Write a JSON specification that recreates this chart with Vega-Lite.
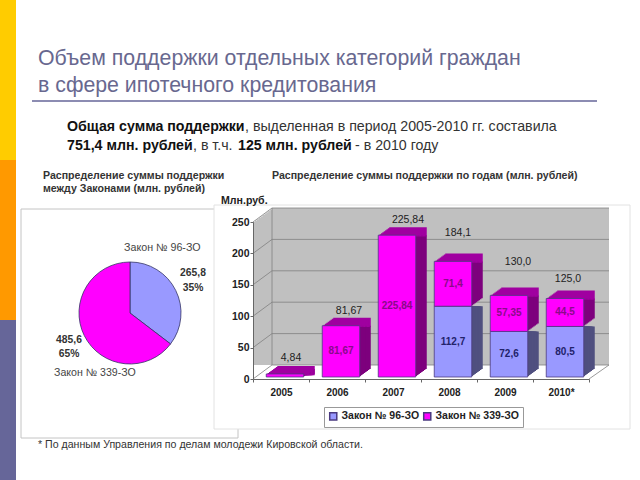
{"$schema":"https://vega.github.io/schema/vega-lite/v6.json","width":640,"height":480,"padding":0,"autosize":"none","background":"white","config":{"view":{"stroke":null},"text":{"font":"Liberation Sans"},"axis":{"labelFont":"Liberation Sans"}},
"datasets":{"funding":[{"year":"2005","law":"Закон № 339-ЗО","value":4.84,"label":"4,84"},{"year":"2006","law":"Закон № 339-ЗО","value":81.67,"label":"81,67"},{"year":"2007","law":"Закон № 339-ЗО","value":225.84,"label":"225,84"},{"year":"2008","law":"Закон № 96-ЗО","value":112.7,"label":"112,7"},{"year":"2008","law":"Закон № 339-ЗО","value":71.4,"label":"71,4"},{"year":"2009","law":"Закон № 96-ЗО","value":72.6,"label":"72,6"},{"year":"2009","law":"Закон № 339-ЗО","value":57.35,"label":"57,35"},{"year":"2010*","law":"Закон № 96-ЗО","value":80.5,"label":"80,5"},{"year":"2010*","law":"Закон № 339-ЗО","value":44.5,"label":"44,5"}],
"totals":[{"year":"2005","total":4.84,"label":"4,84"},{"year":"2006","total":81.67,"label":"81,67"},{"year":"2007","total":225.84,"label":"225,84"},{"year":"2008","total":184.1,"label":"184,1"},{"year":"2009","total":129.95,"label":"130,0"},{"year":"2010*","total":125,"label":"125,0"}],
"ticks":[{"v":0},{"v":50},{"v":100},{"v":150},{"v":200},{"v":250}],
"pie":[{"law":"Закон № 96-ЗО","value":265.8},{"law":"Закон № 339-ЗО","value":485.6}]},
"resolve":{"scale":{"x":"independent","y":"independent","color":"independent","fill":"independent","theta":"independent"},"axis":{"x":"independent","y":"independent"}},
"layer":[
{"data":{"values":[{"seg":"a"},{"seg":"b"},{"seg":"c"}]},"mark":"rect","encoding":{"y":{"field":"seg","type":"nominal","scale":{"type":"band","domain":["a","b","c"],"range":[0,480],"paddingInner":0,"paddingOuter":0},"axis":null},"x":{"datum":0,"type":"quantitative","scale":{"domain":[0,1],"range":[0,16]},"axis":null},"x2":{"datum":1},"color":{"field":"seg","type":"nominal","scale":{"domain":["a","b","c"],"range":["#ffcc00","#ff9900","#666699"]},"legend":null}}},
{"data":{"values":[{"line":"1","text":"Объем поддержки отдельных категорий граждан"},{"line":"2","text":"в сфере ипотечного кредитования"}]},"mark":{"type":"text","align":"left","baseline":"alphabetic","fontSize":21.3,"color":"#68688f"},"encoding":{"x":{"datum":0,"type":"quantitative","scale":{"domain":[0,1],"range":[38,39]},"axis":null},"y":{"field":"line","type":"nominal","scale":{"type":"point","domain":["1","2"],"range":[65,92],"padding":0},"axis":null},"text":{"field":"text"}}},
{"data":{"values":[{"k":"rule"}]},"mark":{"type":"rule","color":"#666699","strokeWidth":1.5},"encoding":{"x":{"datum":0,"type":"quantitative","scale":{"domain":[0,1],"range":[32,597]},"axis":null},"x2":{"datum":1},"y":{"datum":0,"type":"quantitative","scale":{"domain":[0,1],"range":[101,102]},"axis":null}}},
{"data":{"values":[{"run":"a","line":"1","text":"Общая сумма поддержки"},{"run":"b","line":"1","text":", выделенная в период 2005-2010 гг. составила"},{"run":"c","line":"2","text":"751,4 млн. рублей"},{"run":"d","line":"2","text":", в т.ч. "},{"run":"e","line":"2","text":"125 млн. рублей"},{"run":"f","line":"2","text":" - в 2010 году"}]},
"encoding":{"x":{"datum":0,"type":"quantitative","scale":{"domain":[0,1],"range":[67,68]},"axis":null},"y":{"field":"line","type":"nominal","scale":{"type":"point","domain":["1","2"],"range":[131,150],"padding":0},"axis":null},"text":{"field":"text"}},
"layer":[
{"transform":[{"filter":"datum.run=='a'"}],"mark":{"type":"text","align":"left","baseline":"alphabetic","fontSize":14.2,"fontWeight":"bold","color":"#111"}},
{"transform":[{"filter":"datum.run=='b'"}],"mark":{"type":"text","align":"left","baseline":"alphabetic","fontSize":14.2,"color":"#333","dx":178}},
{"transform":[{"filter":"datum.run=='c'"}],"mark":{"type":"text","align":"left","baseline":"alphabetic","fontSize":14.2,"fontWeight":"bold","color":"#111"}},
{"transform":[{"filter":"datum.run=='d'"}],"mark":{"type":"text","align":"left","baseline":"alphabetic","fontSize":14.2,"color":"#333","dx":126}},
{"transform":[{"filter":"datum.run=='e'"}],"mark":{"type":"text","align":"left","baseline":"alphabetic","fontSize":14.2,"fontWeight":"bold","color":"#111","dx":171}},
{"transform":[{"filter":"datum.run=='f'"}],"mark":{"type":"text","align":"left","baseline":"alphabetic","fontSize":14.2,"color":"#333","dx":288}}
]},
{"data":{"values":[{"line":"1","text":"Распределение суммы поддержки"},{"line":"2","text":"между Законами (млн. рублей)"}]},"mark":{"type":"text","align":"left","baseline":"alphabetic","fontSize":10.6,"fontWeight":"bold","color":"#333"},"encoding":{"x":{"datum":0,"type":"quantitative","scale":{"domain":[0,1],"range":[43,44]},"axis":null},"y":{"field":"line","type":"nominal","scale":{"type":"point","domain":["1","2"],"range":[179,192],"padding":0},"axis":null},"text":{"field":"text"}}},
{"data":{"values":[{"text":"Распределение суммы поддержки по годам (млн. рублей)"}]},"mark":{"type":"text","align":"left","baseline":"alphabetic","fontSize":10.6,"fontWeight":"bold","color":"#333"},"encoding":{"x":{"datum":0,"type":"quantitative","scale":{"domain":[0,1],"range":[272,273]},"axis":null},"y":{"datum":0,"type":"quantitative","scale":{"domain":[0,1],"range":[179,180]},"axis":null},"text":{"field":"text"}}},
{"data":{"values":[{"panel":"pie"}]},"mark":{"type":"rect","fill":"white","stroke":"#c4c4c4","strokeWidth":1},"encoding":{"x":{"datum":0,"type":"quantitative","scale":{"domain":[0,1],"range":[21,238]},"axis":null},"x2":{"datum":1},"y":{"datum":0,"type":"quantitative","scale":{"domain":[0,1],"range":[209,438]},"axis":null},"y2":{"datum":1}}},
{"data":{"values":[{"panel":"bars"}]},"mark":{"type":"rect","fill":"white","stroke":"#e2e2e2","strokeWidth":1},"encoding":{"x":{"datum":0,"type":"quantitative","scale":{"domain":[0,1],"range":[214,630]},"axis":null},"x2":{"datum":1},"y":{"datum":0,"type":"quantitative","scale":{"domain":[0,1],"range":[205,429]},"axis":null},"y2":{"datum":1}}},
{"data":{"values":[{"text":"Млн.руб."}]},"mark":{"type":"text","align":"left","baseline":"alphabetic","fontSize":10.6,"fontWeight":"bold","color":"#222"},"encoding":{"x":{"datum":0,"type":"quantitative","scale":{"domain":[0,1],"range":[221,222]},"axis":null},"y":{"datum":0,"type":"quantitative","scale":{"domain":[0,1],"range":[204,205]},"axis":null},"text":{"field":"text"}}},
{"data":{"name":"pie"},"mark":{"type":"arc","outerRadius":51,"stroke":"#333366","strokeWidth":0.8},"encoding":{"theta":{"field":"value","type":"quantitative"},"order":{"field":"law","sort":"descending"},"color":{"field":"law","type":"nominal","scale":{"domain":["Закон № 96-ЗО","Закон № 339-ЗО"],"range":["#9999ff","#ff00ff"]},"legend":null},"x":{"datum":0,"type":"quantitative","scale":{"domain":[0,1],"range":[130,131]},"axis":null},"y":{"datum":0,"type":"quantitative","scale":{"domain":[0,1],"range":[313,314]},"axis":null}}},
{"data":{"values":[{"text":"Закон № 96-ЗО"}]},"mark":{"type":"text","align":"left","baseline":"alphabetic","fontSize":10.7,"color":"#444"},"encoding":{"x":{"datum":0,"type":"quantitative","scale":{"domain":[0,1],"range":[124,125]},"axis":null},"y":{"datum":0,"type":"quantitative","scale":{"domain":[0,1],"range":[251,252]},"axis":null},"text":{"field":"text"}}},
{"data":{"values":[{"text":"Закон № 339-ЗО"}]},"mark":{"type":"text","align":"left","baseline":"alphabetic","fontSize":10.6,"color":"#444"},"encoding":{"x":{"datum":0,"type":"quantitative","scale":{"domain":[0,1],"range":[54,55]},"axis":null},"y":{"datum":0,"type":"quantitative","scale":{"domain":[0,1],"range":[376,377]},"axis":null},"text":{"field":"text"}}},
{"data":{"values":[{"line":"1","text":"265,8"},{"line":"2","text":"35%"}]},"mark":{"type":"text","align":"center","baseline":"alphabetic","fontSize":10.3,"fontWeight":"bold","color":"#333"},"encoding":{"x":{"datum":0,"type":"quantitative","scale":{"domain":[0,1],"range":[193,194]},"axis":null},"y":{"field":"line","type":"nominal","scale":{"type":"point","domain":["1","2"],"range":[276,291],"padding":0},"axis":null},"text":{"field":"text"}}},
{"data":{"values":[{"line":"1","text":"485,6"},{"line":"2","text":"65%"}]},"mark":{"type":"text","align":"center","baseline":"alphabetic","fontSize":10.3,"fontWeight":"bold","color":"#333"},"encoding":{"x":{"datum":0,"type":"quantitative","scale":{"domain":[0,1],"range":[69,70]},"axis":null},"y":{"field":"line","type":"nominal","scale":{"type":"point","domain":["1","2"],"range":[343,357],"padding":0},"axis":null},"text":{"field":"text"}}},
{"data":{"values":[{"text":"* По данным Управления по делам молодежи Кировской области."}]},"mark":{"type":"text","align":"left","baseline":"alphabetic","fontSize":10.6,"color":"#333"},"encoding":{"x":{"datum":0,"type":"quantitative","scale":{"domain":[0,1],"range":[38,39]},"axis":null},"y":{"datum":0,"type":"quantitative","scale":{"domain":[0,1],"range":[448,449]},"axis":null},"text":{"field":"text"}}},
{"data":{"values":[{"panel":"wall"}]},"encoding":{"x":{"datum":0,"type":"quantitative","scale":{"domain":[0,1],"range":[272,609]},"axis":null},"x2":{"datum":1},"y":{"datum":0,"type":"quantitative","scale":{"domain":[0,1],"range":[208,365]},"axis":null},"y2":{"datum":1}},"layer":[
{"mark":{"type":"rect","fill":"#c0c0c0","xOffset":-19,"yOffset":14}},{"mark":{"type":"rect","fill":"#c0c0c0","xOffset":-17.1,"yOffset":12.6}},{"mark":{"type":"rect","fill":"#c0c0c0","xOffset":-15.2,"yOffset":11.2}},{"mark":{"type":"rect","fill":"#c0c0c0","xOffset":-13.3,"yOffset":9.8}},{"mark":{"type":"rect","fill":"#c0c0c0","xOffset":-11.4,"yOffset":8.4}},{"mark":{"type":"rect","fill":"#c0c0c0","xOffset":-9.5,"yOffset":7}},{"mark":{"type":"rect","fill":"#c0c0c0","xOffset":-7.6,"yOffset":5.6}},{"mark":{"type":"rect","fill":"#c0c0c0","xOffset":-5.7,"yOffset":4.2}},{"mark":{"type":"rect","fill":"#c0c0c0","xOffset":-3.8,"yOffset":2.8}},{"mark":{"type":"rect","fill":"#c0c0c0","xOffset":-1.9,"yOffset":1.4}},{"mark":{"type":"rect","fill":"#c0c0c0"}}
]},
{"data":{"name":"ticks"},"mark":{"type":"rule","color":"#808080","strokeWidth":0.8},"encoding":{"x":{"datum":0,"type":"quantitative","scale":{"domain":[0,1],"range":[272,609]},"axis":null},"x2":{"datum":1},"y":{"field":"v","type":"quantitative","scale":{"domain":[0,250],"range":[365,208]},"axis":null}}},
{"data":{"name":"ticks"},"transform":[{"calculate":"datum.v+22.3","as":"vb"}],"mark":{"type":"rule","color":"#808080","strokeWidth":0.8},"encoding":{"x":{"datum":0,"type":"quantitative","scale":{"domain":[0,1],"range":[253,272]},"axis":null},"x2":{"datum":1},"y":{"field":"v","type":"quantitative","scale":{"domain":[0,250],"range":[379,222]},"axis":null},"y2":{"field":"vb"}}},
{"data":{"name":"ticks"},"transform":[{"filter":"datum.v==0"},{"calculate":"datum.v+22.3","as":"vb"}],"mark":{"type":"rule","color":"#808080","strokeWidth":0.8},"encoding":{"x":{"datum":0,"type":"quantitative","scale":{"domain":[0,1],"range":[589,609]},"axis":null},"x2":{"datum":1},"y":{"field":"v","type":"quantitative","scale":{"domain":[0,250],"range":[379,222]},"axis":null},"y2":{"field":"vb"}}},
{"data":{"name":"ticks"},"transform":[{"filter":"datum.v==0"}],"mark":{"type":"rule","color":"#808080","strokeWidth":0.8},"encoding":{"x":{"datum":0,"type":"quantitative","scale":{"domain":[0,1],"range":[272,273]},"axis":null},"y":{"datum":0,"type":"quantitative","scale":{"domain":[0,250],"range":[365,208]},"axis":null},"y2":{"datum":250}}},
{"data":{"name":"funding"},"transform":[{"stack":"value","groupby":["year"],"sort":[{"field":"law","order":"descending"}],"as":["y0","y1"]},{"calculate":"datum.y1-2","as":"yEdge"}],
"encoding":{"x":{"field":"year","type":"nominal","scale":{"type":"band","domain":["2005","2006","2007","2008","2009","2010*"],"range":[257,593],"paddingInner":0.33,"paddingOuter":0.165},"axis":null},"y":{"field":"y0","type":"quantitative","scale":{"domain":[0,250],"range":[377,220]},"axis":null},"y2":{"field":"y1"},"color":{"field":"law","type":"nominal","scale":{"domain":["Закон № 96-ЗО","Закон № 339-ЗО"],"range":["#50507f","#7d007d"]},"legend":null}},
"layer":[
{"mark":{"type":"bar","xOffset":11,"yOffset":-8}},
{"transform":[{"filter":"datum.law=='Закон № 339-ЗО'"}],"mark":{"type":"bar","color":"#a000a0","xOffset":11,"yOffset":-8},"encoding":{"y":{"field":"y1","type":"quantitative"},"y2":{"field":"yEdge"},"color":{"value":"#a000a0"}}},
{"mark":{"type":"bar","xOffset":9.6,"yOffset":-7}},
{"transform":[{"filter":"datum.law=='Закон № 339-ЗО'"}],"mark":{"type":"bar","xOffset":9.6,"yOffset":-7},"encoding":{"y":{"field":"y1","type":"quantitative"},"y2":{"field":"yEdge"},"color":{"value":"#a000a0"}}},
{"mark":{"type":"bar","xOffset":8.25,"yOffset":-6}},
{"transform":[{"filter":"datum.law=='Закон № 339-ЗО'"}],"mark":{"type":"bar","xOffset":8.25,"yOffset":-6},"encoding":{"y":{"field":"y1","type":"quantitative"},"y2":{"field":"yEdge"},"color":{"value":"#a000a0"}}},
{"mark":{"type":"bar","xOffset":6.9,"yOffset":-5}},
{"transform":[{"filter":"datum.law=='Закон № 339-ЗО'"}],"mark":{"type":"bar","xOffset":6.9,"yOffset":-5},"encoding":{"y":{"field":"y1","type":"quantitative"},"y2":{"field":"yEdge"},"color":{"value":"#a000a0"}}},
{"mark":{"type":"bar","xOffset":5.5,"yOffset":-4}},
{"transform":[{"filter":"datum.law=='Закон № 339-ЗО'"}],"mark":{"type":"bar","xOffset":5.5,"yOffset":-4},"encoding":{"y":{"field":"y1","type":"quantitative"},"y2":{"field":"yEdge"},"color":{"value":"#a000a0"}}},
{"mark":{"type":"bar","xOffset":4.1,"yOffset":-3}},
{"transform":[{"filter":"datum.law=='Закон № 339-ЗО'"}],"mark":{"type":"bar","xOffset":4.1,"yOffset":-3},"encoding":{"y":{"field":"y1","type":"quantitative"},"y2":{"field":"yEdge"},"color":{"value":"#a000a0"}}},
{"mark":{"type":"bar","xOffset":2.75,"yOffset":-2}},
{"transform":[{"filter":"datum.law=='Закон № 339-ЗО'"}],"mark":{"type":"bar","xOffset":2.75,"yOffset":-2},"encoding":{"y":{"field":"y1","type":"quantitative"},"y2":{"field":"yEdge"},"color":{"value":"#a000a0"}}},
{"mark":{"type":"bar","xOffset":1.4,"yOffset":-1}},
{"transform":[{"filter":"datum.law=='Закон № 339-ЗО'"}],"mark":{"type":"bar","xOffset":1.4,"yOffset":-1},"encoding":{"y":{"field":"y1","type":"quantitative"},"y2":{"field":"yEdge"},"color":{"value":"#a000a0"}}}
]},
{"data":{"name":"funding"},"transform":[{"stack":"value","groupby":["year"],"sort":[{"field":"law","order":"descending"}],"as":["y0","y1"]}],"mark":{"type":"bar","stroke":"#4a3a80","strokeWidth":0.8},"encoding":{"x":{"field":"year","type":"nominal","scale":{"type":"band","domain":["2005","2006","2007","2008","2009","2010*"],"range":[257,593],"paddingInner":0.33,"paddingOuter":0.165},"axis":null},"y":{"field":"y0","type":"quantitative","scale":{"domain":[0,250],"range":[377,220]},"axis":null},"y2":{"field":"y1"},"fill":{"field":"law","type":"nominal","scale":{"domain":["Закон № 96-ЗО","Закон № 339-ЗО"],"range":["#9999ff","#ff00ff"]},"legend":{"orient":"none","legendX":324,"legendY":407,"direction":"horizontal","columns":2,"title":null,"fillColor":"white","strokeColor":"#999999","padding":4,"symbolType":"square","symbolSize":50,"labelFont":"Liberation Sans","labelFontWeight":"bold","labelFontSize":10.5,"labelColor":"#222","labelOffset":3,"columnPadding":0,"rowPadding":0}}}},
{"data":{"name":"funding"},"transform":[{"stack":"value","groupby":["year"],"sort":[{"field":"law","order":"descending"}],"as":["y0","y1"]},{"calculate":"(datum.y0+datum.y1)/2","as":"mid"},{"filter":"datum.year!='2005'"}],"mark":{"type":"text","fontSize":10,"fontWeight":"bold"},"encoding":{"x":{"field":"year","type":"nominal","scale":{"type":"band","domain":["2005","2006","2007","2008","2009","2010*"],"range":[257,593],"paddingInner":0.33,"paddingOuter":0.165},"axis":null},"y":{"field":"mid","type":"quantitative","scale":{"domain":[0,250],"range":[377,220]},"axis":null},"text":{"field":"label"},"color":{"field":"law","type":"nominal","scale":{"domain":["Закон № 96-ЗО","Закон № 339-ЗО"],"range":["#22226a","#8a0a8a"]},"legend":null}}},
{"data":{"name":"totals"},"encoding":{"x":{"field":"year","type":"nominal","scale":{"type":"band","domain":["2005","2006","2007","2008","2009","2010*"],"range":[257,593],"paddingInner":0.33,"paddingOuter":0.165},"axis":null},"y":{"field":"total","type":"quantitative","scale":{"domain":[0,250],"range":[377,220]},"axis":null},"text":{"field":"label"}},
"layer":[
{"transform":[{"filter":"datum.year=='2005'"}],"mark":{"type":"text","fontSize":10.5,"color":"#222","dx":6,"dy":-16}},
{"transform":[{"filter":"datum.year=='2006'"}],"mark":{"type":"text","fontSize":10.5,"color":"#222","dx":8,"dy":-15}},
{"transform":[{"filter":"datum.year=='2007'"}],"mark":{"type":"text","fontSize":10.5,"color":"#222","dx":11,"dy":-15}},
{"transform":[{"filter":"datum.year=='2008'"}],"mark":{"type":"text","fontSize":10.5,"color":"#222","dx":5,"dy":-28}},
{"transform":[{"filter":"datum.year=='2009'"}],"mark":{"type":"text","fontSize":10.5,"color":"#222","dx":9,"dy":-33}},
{"transform":[{"filter":"datum.year=='2010*'"}],"mark":{"type":"text","fontSize":10.5,"color":"#222","dx":3,"dy":-20}}
]},
{"data":{"name":"totals"},"mark":{"type":"bar","opacity":0},"encoding":{"x":{"field":"year","type":"nominal","scale":{"type":"band","domain":["2005","2006","2007","2008","2009","2010*"],"range":[253,589],"paddingInner":0,"paddingOuter":0},"axis":{"orient":"bottom","offset":-101,"zindex":2,"title":null,"labelAngle":0,"tickBand":"extent","tickSize":3,"tickColor":"#666","domainColor":"#666","labelPadding":5,"labelFontSize":10,"labelFontWeight":"bold","labelColor":"#222","grid":false}},"y":{"field":"total","type":"quantitative","scale":{"domain":[0,250],"range":[379,222]},"axis":{"orient":"left","offset":-253,"zindex":2,"title":null,"values":[0,50,100,150,200,250],"tickSize":3,"tickColor":"#666","domainColor":"#666","labelPadding":1,"labelFontSize":10.5,"labelFontWeight":"bold","labelColor":"#222","grid":false}}}}
]}
